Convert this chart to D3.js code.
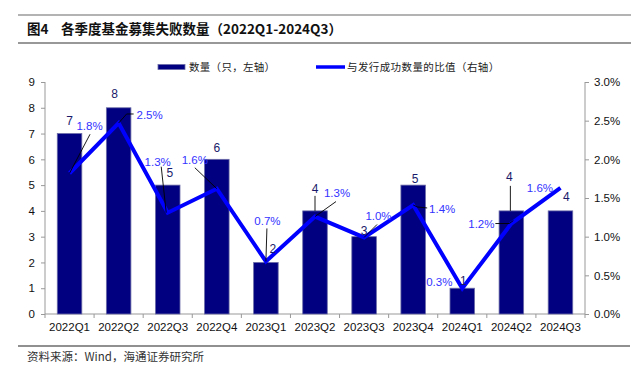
<!DOCTYPE html>
<html><head><meta charset="utf-8">
<script src="https://cdn.jsdelivr.net/npm/d3@7"></script>
<style>
html,body{margin:0;padding:0;background:#fff;}
svg{display:block;}
</style></head>
<body>
<svg id="chart" width="644" height="372"></svg>
<script>
// ---- data ----
const categories = ["2022Q1","2022Q2","2022Q3","2022Q4","2023Q1","2023Q2","2023Q3","2023Q4","2024Q1","2024Q2","2024Q3"];
const counts = [7, 8, 5, 6, 2, 4, 3, 5, 1, 4, 4];
const ratios = [1.82, 2.47, 1.31, 1.62, 0.68, 1.26, 0.99, 1.41, 0.33, 1.17, 1.63];
const ratioLabels = ["1.8%","2.5%","1.3%","1.6%","0.7%","1.3%","1.0%","1.4%","0.3%","1.2%","1.6%"];
const leftTicks = [0,1,2,3,4,5,6,7,8,9];
const rightTicks = [0,0.5,1.0,1.5,2.0,2.5,3.0];
const titleNum = "图4";
const titleText = "各季度基金募集失败数量（2022Q1-2024Q3）";
const sourceText = "资料来源：Wind，海通证券研究所";
const legendBar = "数量（只，左轴）";
const legendLine = "与发行成功数量的比值（右轴）";

// ---- layout (label offsets in px) ----
const barLabelOff = [[0,-12.6],[-4,-14],[2,-12],[0,-12],[7,-14],[0,-22],[0,-6],[2,-6],[1,-8],[-2,-34],[6,-14]];
const barLeader = {5:[[0,-15],[0,0]], 9:[[-1,-25],[-1,0]]};
const lineLabelOff = [[20,-47.6],[31,-7.7],[-10,-51],[-22,-29],[1.5,-40.7],[22,-23.7],[14.4,-21.3],[29,4],[-23,-7],[-30,0.7],[-20.5,0.3]];
const lineLeader = {
  0:[[20.5,-39],[0,0]],
  1:[[15,-9],[8,-9],[0,0]],
  2:[[-6.5,-46],[-1.5,0]],
  3:[[-22,-21],[0,0]],
  4:[[1,-33],[0,0]],
  5:[[21,-15],[0,0]],
  6:[[13,-13],[0,0]],
  7:[[0,0],[4,2],[14,3]],
  9:[[-16,0],[-2,0],[2,-3]]
};

const svg = d3.select("#chart");
const FONT = "'Liberation Sans', Arial, sans-serif";
const CJK = "'Noto Sans CJK SC', sans-serif";

const x0 = 45, x1 = 585, yTop = 82, yBot = 314;
const x = d3.scaleBand().domain(categories).range([x0, x1]).paddingInner(0.5).paddingOuter(0.25);
const yL = d3.scaleLinear().domain([0, 9]).range([yBot, yTop]);
const yR = d3.scaleLinear().domain([0, 3]).range([yBot, yTop]);
const cx = c => x(c) + x.bandwidth()/2;

// title lines
svg.append("line").attr("x1",18).attr("x2",631).attr("y1",15).attr("y2",15).attr("stroke","#9a9a9a").attr("stroke-width",1.5);
svg.append("line").attr("x1",18).attr("x2",631).attr("y1",43).attr("y2",43).attr("stroke","#333").attr("stroke-width",1.2);
svg.append("text").attr("x",27).attr("y",34).attr("font-family",CJK).attr("font-weight","bold").attr("font-size",13.5).attr("fill","#111").text(titleNum);
svg.append("text").attr("x",61).attr("y",34).attr("font-family",CJK).attr("font-weight","bold").attr("font-size",13.5).attr("fill","#111").text(titleText);

// footer
svg.append("line").attr("x1",18).attr("x2",630).attr("y1",346).attr("y2",346).attr("stroke","#222").attr("stroke-width",1.2);
svg.append("text").attr("x",27).attr("y",361).attr("font-family",CJK).attr("font-size",11.5).attr("fill","#333").text(sourceText);

// axes
const axisColor = "#999";
const gL = svg.append("g").attr("transform",`translate(${x0},0)`)
  .call(d3.axisLeft(yL).tickValues(leftTicks).tickFormat(d3.format("d")).tickSize(4).tickPadding(6));
const gR = svg.append("g").attr("transform",`translate(${x1},0)`)
  .call(d3.axisRight(yR).tickValues(rightTicks).tickFormat(d => d.toFixed(1)+"%").tickSize(4).tickPadding(5));
const gX = svg.append("g").attr("transform",`translate(0,${yBot})`)
  .call(d3.axisBottom(x).tickSize(0).tickPadding(9));
// x ticks at band boundaries
const step = x.step();
const bounds = d3.range(categories.length+1).map(i => x0 + i*step);
svg.append("g").selectAll("line").data(bounds).join("line")
  .attr("x1",d=>d).attr("x2",d=>d).attr("y1",yBot).attr("y2",yBot+4).attr("stroke",axisColor);
[gL,gR,gX].forEach(g=>{
  g.selectAll("path.domain").attr("stroke",axisColor).attr("stroke-width",1);
  g.selectAll(".tick line").attr("stroke",axisColor);
  g.selectAll("text").attr("font-family",FONT).attr("font-size",11.5).attr("fill","#111");
});
gL.select("path.domain").attr("d",`M0,${yTop}V${yBot}`);
gR.select("path.domain").attr("d",`M0,${yTop}V${yBot}`);
gX.select("path.domain").attr("d",`M${x0},0H${x1}`);

// bars
svg.append("g").selectAll("rect").data(counts).join("rect")
  .attr("x",(d,i)=>x(categories[i])).attr("width",x.bandwidth())
  .attr("y",d=>yL(d)).attr("height",d=>yBot-yL(d))
  .attr("fill","#000080").attr("stroke","#6c6ca8").attr("stroke-width",0.8);

// line
const line = d3.line().x((d,i)=>cx(categories[i])).y(d=>yR(d));
svg.append("path").datum(ratios).attr("d",line).attr("fill","none")
  .attr("stroke","#0000ff").attr("stroke-width",4).attr("stroke-linejoin","miter");

// leaders
const lg = svg.append("g").attr("stroke","#000").attr("stroke-width",0.9).attr("fill","none");
Object.entries(barLeader).forEach(([i,pts])=>{
  const bx = cx(categories[i]), by = yL(counts[i]);
  lg.append("path").attr("d", d3.line()(pts.map(p=>[bx+p[0],by+p[1]])));
});
Object.entries(lineLeader).forEach(([i,pts])=>{
  const px = cx(categories[i]), py = yR(ratios[i]);
  lg.append("path").attr("d", d3.line()(pts.map(p=>[px+p[0],py+p[1]])));
});

// bar labels
svg.append("g").selectAll("text").data(counts).join("text")
  .attr("x",(d,i)=>cx(categories[i])+barLabelOff[i][0])
  .attr("y",(d,i)=>yL(d)+barLabelOff[i][1])
  .attr("dy","0.36em").attr("text-anchor","middle")
  .attr("font-family",FONT).attr("font-size",12).attr("fill","#1a1a6a")
  .text(d=>d);

// line labels
svg.append("g").selectAll("text").data(ratios).join("text")
  .attr("x",(d,i)=>cx(categories[i])+lineLabelOff[i][0])
  .attr("y",(d,i)=>yR(d)+lineLabelOff[i][1])
  .attr("dy","0.36em").attr("text-anchor","middle")
  .attr("font-family",FONT).attr("font-size",11.5).attr("fill","#3333ff")
  .text((d,i)=>ratioLabels[i]);

// legend
const leg = svg.append("g");
leg.append("rect").attr("x",158).attr("y",64.5).attr("width",27).attr("height",5).attr("fill","#000080").attr("stroke","#6c6ca8").attr("stroke-width",0.8);
leg.append("text").attr("x",189).attr("y",67).attr("dy","0.36em").attr("font-family",CJK).attr("font-size",10.5).attr("letter-spacing",0.3).attr("fill","#222").text(legendBar);
leg.append("line").attr("x1",316).attr("x2",345).attr("y1",67).attr("y2",67).attr("stroke","#0000ff").attr("stroke-width",3.5);
leg.append("text").attr("x",347).attr("y",67).attr("dy","0.36em").attr("font-family",CJK).attr("font-size",10.5).attr("letter-spacing",0.4).attr("fill","#222").text(legendLine);
</script>
</body></html>
